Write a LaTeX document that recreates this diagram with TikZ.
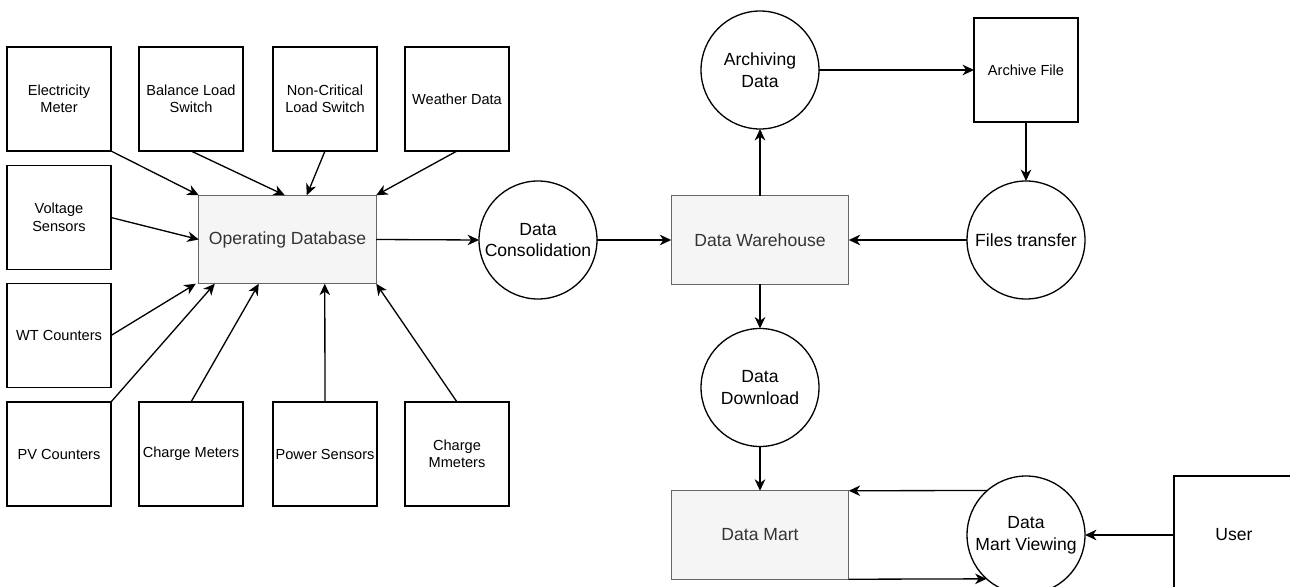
\documentclass[tikz,border=0pt]{standalone}
\usepackage{fontspec}
\setmainfont{Liberation Sans}
\usetikzlibrary{arrows.meta,calc}
\definecolor{dbfill}{HTML}{F5F5F5}
\definecolor{dbline}{HTML}{666666}
\definecolor{dbtext}{HTML}{333333}
\begin{document}
\begin{tikzpicture}[x=0.02cm,y=-0.02cm,
  every node/.style={inner sep=0pt,outer sep=0pt},
  src/.style={draw=black,line width=0.75pt,minimum width=2.08cm,minimum height=2.08cm,align=center,font=\fontsize{8.3}{10}\selectfont},
  store/.style={draw=dbline,fill=dbfill,line width=0.75pt,minimum width=3.55cm,minimum height=1.77cm,align=center,text=dbtext,font=\fontsize{10}{12.3}\selectfont},
  proc/.style={draw=black,circle,line width=0.75pt,minimum size=2.36cm,align=center,font=\fontsize{10}{12.3}\selectfont},
  flow/.style={line width=0.75pt,-{Stealth[length=6.5pt,width=6pt,inset=2pt]}}
]
\useasboundingbox (0,0) rectangle (1290,587);
\clip (0,0) rectangle (1290,587);
% sources
\node[src] (em)  at (59,99)   {Electricity\\Meter};
\node[src] (bls) at (191,99)  {Balance Load\\Switch};
\node[src] (ncl) at (325,99)  {Non-Critical\\Load Switch};
\node[src] (wd)  at (457,99)  {Weather Data};
\node[src] (vs)  at (59,217.5) {Voltage\\Sensors};
\node[src] (wt)  at (59,335.5) {WT Counters};
\node[src] (pv)  at (59,454)  {PV Counters};
\node[src] (cm)  at (191,454) {Charge Meters};
\node[src] (ps)  at (325,454) {Power Sensors};
\node[src] (cmm) at (457,454) {Charge\\Mmeters};
% stores
\node[store] (od) at (287.5,239.5) {Operating Database};
\node[store] (dw) at (760,240) {Data Warehouse};
\node[store] (dm) at (760,535) {Data Mart};
% processes
\node[proc] (dc)  at (538,240)  {Data\\Consolidation};
\node[proc] (ad)  at (760,70)   {Archiving\\Data};
\node[proc] (ft)  at (1026,240) {Files transfer};
\node[proc] (dd)  at (760,387.5) {Data\\Download};
\node[proc] (dmv) at (1026,535) {Data\\Mart Viewing};
% other entities
\node[src] (af) at (1026,70) {Archive File};
\node[src,minimum width=2.4cm,minimum height=2.36cm,font=\fontsize{10}{12.3}\selectfont] (user) at (1234,535) {User};
% connectors into operating database
\draw[flow] (em.south east) -- (od.north west);
\draw[flow] (bls.south) -- ($(od.north west)+(86,0)$);
\draw[flow] (ncl.south) -- ($(od.north west)+(108,0)$);
\draw[flow] (wd.south) -- (od.north east);
\draw[flow] (vs.east) -- (od.west);
\draw[flow] (wt.east) -- ($(od.south west)+(-3,0)$);
\draw[flow] (pv.north east) -- ($(od.south west)+(16,0)$);
\draw[flow] (cm.north) -- ($(od.south west)+(60,0)$);
\draw[flow] (ps.north) -- ($(od.south west)+(126,0)$);
\draw[flow] (cmm.north) -- (od.south east);
% main flow
\draw[flow] (od.east) -- (dc.west);
\draw[flow] (dc.east) -- (dw.west);
\draw[flow] (dw.north) -- (ad.south);
\draw[flow] (ad.east) -- (af.west);
\draw[flow] (af.south) -- (ft.north);
\draw[flow] (ft.west) -- (dw.east);
\draw[flow] (dw.south) -- (dd.north);
\draw[flow] (dd.south) -- (dm.north);
\draw[flow] (dmv.131.8) -- (dm.north east);
\draw[flow] (dm.south east) -- (dmv.228.2);
\draw[flow] (user.west) -- (dmv.east);
\end{tikzpicture}
\end{document}
